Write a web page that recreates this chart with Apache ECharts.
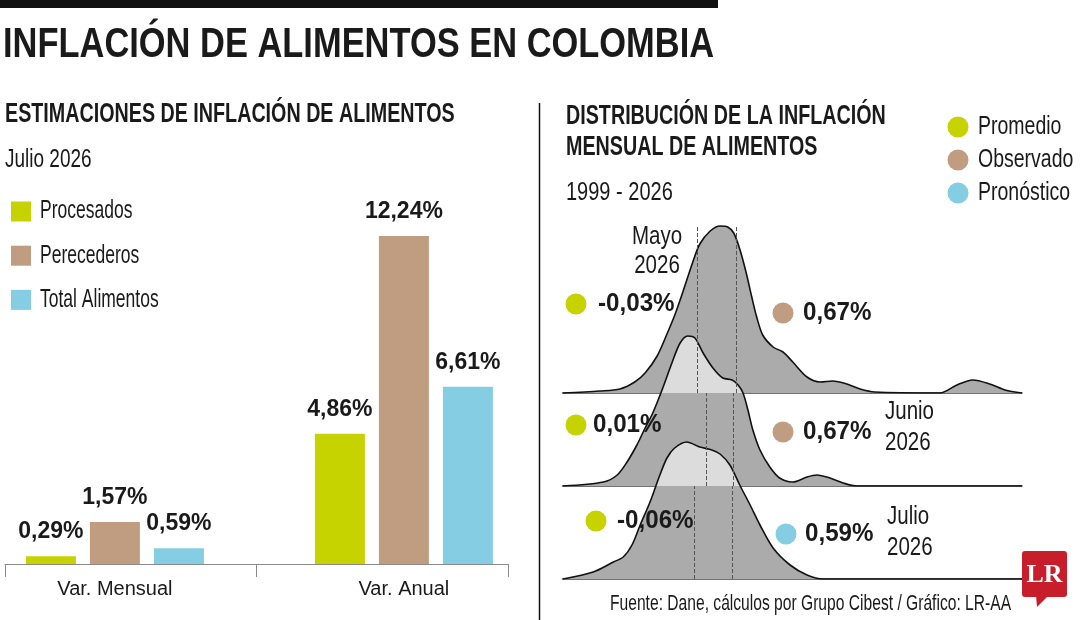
<!DOCTYPE html>
<html lang="es">
<head>
<meta charset="UTF-8">
<title>Inflación de alimentos en Colombia</title>
<script src="https://cdn.jsdelivr.net/npm/echarts@6/dist/echarts.min.js"></script>
<style>
    html, body { margin: 0; padding: 0; background: #fff; }
    #chart { width: 1080px; height: 620px; }
</style>
</head>
<body>
<div id="chart"></div>
<script type="text/javascript">
    // ---- barras: estimaciones julio 2026 ----
    var categorias = ['Var. Mensual', 'Var. Anual'];
    var nombresBarras = ['Procesados', 'Perecederos', 'Total Alimentos'];
    var procesados = [0.29, 4.86];
    var perecederos = [1.57, 12.24];
    var totalAlimentos = [0.59, 6.61];

    // ---- distribución de la inflación mensual 1999-2026 ----
    var meses = [['Mayo', '2026'], ['Junio', '2026'], ['Julio', '2026']];
    var promedio = [-0.03, 0.01, -0.06];
    var observado = [0.67, 0.67, 0.59];   // julio = pronóstico
    // posición (en %) de las líneas punteadas
    var guiaMayo = [-0.03, 0.67];
    var guiaJunio = [0.12, 0.63];
    var guiaJulio = [-0.09, 0.60];

    // densidades: [inflación mensual %, densidad]
    var densMayo = [[-2.49, 0], [-1.82, 0.01], [-1.45, 0.02], [-1.18, 0.055], [-0.99, 0.10], [-0.77, 0.185],
        [-0.59, 0.295], [-0.44, 0.395], [-0.30, 0.505], [-0.13, 0.645], [0.01, 0.745], [0.20, 0.81],
        [0.38, 0.835], [0.52, 0.83], [0.63, 0.80], [0.74, 0.72], [0.85, 0.61], [0.96, 0.48], [1.05, 0.38],
        [1.16, 0.29], [1.35, 0.23], [1.53, 0.205], [1.71, 0.155], [1.97, 0.08], [2.21, 0.055], [2.44, 0.06],
        [2.70, 0.045], [2.94, 0.02], [3.21, 0.005], [4.40, 0], [4.71, 0.04], [5.00, 0.065], [5.31, 0.045],
        [5.59, 0.015], [5.90, 0]];
    var densJunio = [[-2.49, 0], [-1.75, 0.02], [-1.50, 0.055], [-1.32, 0.12], [-1.14, 0.205], [-0.99, 0.29],
        [-0.85, 0.365], [-0.66, 0.495], [-0.50, 0.615], [-0.35, 0.715], [-0.21, 0.75], [-0.08, 0.74],
        [0.07, 0.665], [0.25, 0.59], [0.43, 0.54], [0.60, 0.53], [0.71, 0.505], [0.80, 0.465], [0.89, 0.38],
        [0.98, 0.28], [1.11, 0.18], [1.29, 0.095], [1.47, 0.04], [1.71, 0.02], [1.97, 0.045], [2.15, 0.055],
        [2.39, 0.04], [2.63, 0.015], [2.88, 0], [5.90, 0]];
    var densJulio = [[-2.49, 0], [-1.94, 0.035], [-1.57, 0.085], [-1.39, 0.11], [-1.23, 0.17], [-1.08, 0.27],
        [-0.90, 0.385], [-0.72, 0.52], [-0.59, 0.605], [-0.45, 0.655], [-0.23, 0.685], [0.01, 0.66],
        [0.23, 0.645], [0.38, 0.625], [0.56, 0.57], [0.74, 0.47], [0.93, 0.37], [1.11, 0.27], [1.35, 0.155],
        [1.66, 0.07], [1.97, 0.02], [2.26, 0], [5.90, 0]];

    var VERDE = '#c6d300', CAFE = '#c09d80', AZUL = '#84cde3';
    var OSCURO = '#ababab', CLARO = '#dcdcdc', TINTA = '#1a1a1a';
    var SANS = '"Liberation Sans", Arial, sans-serif';

    function fmt(v) {
        return v.toFixed(2).replace('.', ',') + '%';
    }

    function txt(x, y, s, size, bold, sx, align) {
        return {
            type: 'text', x: x, y: y, scaleX: sx, silent: true, z: 20,
            style: {
                text: s, fill: TINTA, font: (bold ? 'bold ' : '') + size + 'px ' + SANS,
                textAlign: align || 'left', textVerticalAlign: 'middle'
            }
        };
    }

    function dot(cx, cy, color) {
        return {type: 'circle', silent: true, z: 20, shape: {cx: cx, cy: cy, r: 10.5}, style: {fill: color}};
    }

    // escala horizontal de las curvas: -2,5% .. 5,9%
    var xMin = -2.5, xMax = 5.9;
    var ridgeLeft = 562.5, ridgeRight = 58;
    var base = [393, 486, 579];   // línea base de cada mes (px)
    var fila = 0.465;             // alto de una fila en unidades de densidad

    function ridgeGrid(top, bottom) {
        return {left: ridgeLeft, right: ridgeRight, top: top, bottom: 620 - bottom, outerBoundsMode: 'none'};
    }

    var grids = [
        {left: -29.6, right: 531.6, top: 188.8, bottom: 56, outerBoundsMode: 'none'},   // barras
        {left: 5, right: 572, top: 400, bottom: 56, outerBoundsMode: 'none'},           // eje de barras
        ridgeGrid(base[0] - 180, base[0]),   // mayo
        ridgeGrid(base[1] - 180, base[1]),   // junio claro
        ridgeGrid(base[0], base[1]),         // junio oscuro
        ridgeGrid(base[2] - 180, base[2]),   // julio claro
        ridgeGrid(base[1], base[2])          // julio oscuro
    ];

    var xAxes = [
        {
            gridIndex: 0, type: 'category', data: categorias,
            axisLine: {show: false}, axisTick: {show: false},
            axisLabel: {fontFamily: SANS, fontSize: 20, color: TINTA, margin: 15}
        },
        {
            gridIndex: 1, type: 'category', data: ['', ''],
            axisLine: {lineStyle: {color: '#8a8a8a', width: 1}},
            axisTick: {show: true, length: 13, lineStyle: {color: '#8a8a8a'}},
            axisLabel: {show: false}
        }
    ];
    var yAxes = [
        {gridIndex: 0, type: 'value', min: 0, max: 14, show: false},
        {gridIndex: 1, type: 'value', show: false}
    ];
    for (var g = 2; g < grids.length; g++) {
        var conLinea = (g === 2 || g === 3 || g === 5);
        xAxes.push({
            gridIndex: g, type: 'value', min: xMin, max: xMax,
            axisLine: {show: conLinea, onZero: false, lineStyle: {color: '#444', width: 1.5}},
            axisTick: {show: false}, axisLabel: {show: false}, splitLine: {show: false}
        });
        yAxes.push({
            gridIndex: g, type: 'value', min: 0, max: (g === 4 || g === 6) ? fila : 0.9, show: false
        });
    }

    function barra(nombre, valores, color) {
        return {
            name: nombre, type: 'bar', xAxisIndex: 0, yAxisIndex: 0,
            data: valores, barWidth: 50, barGap: '28%',
            itemStyle: {color: color},
            label: {
                show: true, position: 'top', distance: 13,
                fontFamily: SANS, fontWeight: 'bold', fontSize: 23, color: TINTA,
                formatter: function (p) { return fmt(p.value); }
            }
        };
    }

    function relleno(datos, idx, color) {
        return {
            type: 'line', xAxisIndex: idx, yAxisIndex: idx, data: datos,
            smooth: 0.3, symbol: 'none', silent: true, z: 2,
            lineStyle: {width: 0}, areaStyle: {color: color, opacity: 1}
        };
    }

    function trazo(datos, idx, guias, alto) {
        return {
            type: 'line', xAxisIndex: idx, yAxisIndex: idx, data: datos,
            smooth: 0.3, symbol: 'none', silent: true, z: 3,
            lineStyle: {color: '#111', width: 1.6},
            markLine: {
                silent: true, symbol: 'none', label: {show: false},
                lineStyle: {color: '#555', type: 'dashed', width: 1},
                data: guias.map(function (gx) {
                    return [{coord: [gx, 0]}, {coord: [gx, alto]}];
                })
            }
        };
    }

    var colores = [VERDE, CAFE, AZUL];
    var series = [
        barra(nombresBarras[0], procesados, VERDE),
        barra(nombresBarras[1], perecederos, CAFE),
        barra(nombresBarras[2], totalAlimentos, AZUL),
        relleno(densMayo, 2, OSCURO),
        trazo(densMayo, 2, guiaMayo, 0.84),
        relleno(densJunio, 3, CLARO),
        relleno(densJunio, 4, OSCURO),
        trazo(densJunio, 3, guiaJunio, fila),
        relleno(densJulio, 5, CLARO),
        relleno(densJulio, 6, OSCURO),
        trazo(densJulio, 5, guiaJulio, fila)
    ];

    // ---- textos y anotaciones ----
    var graficos = [
        {type: 'rect', silent: true, shape: {x: 0, y: 0, width: 718, height: 8}, style: {fill: '#111'}},
        txt(3, 45, 'INFLACIÓN DE ALIMENTOS EN COLOMBIA', 42, true, 0.82),
        txt(5, 115, 'ESTIMACIONES DE INFLACIÓN DE ALIMENTOS', 27, true, 0.73),
        txt(5, 160, 'Julio 2026', 25, false, 0.76),
        {type: 'line', silent: true, shape: {x1: 539.5, y1: 103, x2: 539.5, y2: 620},
            style: {stroke: '#111', lineWidth: 1.5}},
        txt(566, 117, 'DISTRIBUCIÓN DE LA INFLACIÓN', 27, true, 0.73),
        txt(566, 148, 'MENSUAL DE ALIMENTOS', 27, true, 0.73),
        txt(566, 193, '1999 - 2026', 25, false, 0.8),
        dot(958, 127, VERDE), txt(978, 127, 'Promedio', 25, false, 0.78),
        dot(958, 160, CAFE), txt(978, 160, 'Observado', 25, false, 0.78),
        dot(958, 193, AZUL), txt(978, 193, 'Pronóstico', 25, false, 0.78),
        txt(610, 604, 'Fuente: Dane, cálculos por Grupo Cibest / Gráfico: LR-AA', 22, false, 0.71)
    ];

    // leyenda de las barras
    nombresBarras.forEach(function (n, i) {
        var cy = 211.5 + i * 44.2;
        graficos.push({type: 'rect', silent: true, shape: {x: 11, y: cy - 10, width: 20, height: 20},
            style: {fill: colores[i]}});
        graficos.push(txt(40, cy, n, 25, false, 0.7));
    });

    // posiciones de las etiquetas de cada fila (px)
    var anot = [
        {pd: [576, 304], pt: 598, od: [783, 313], ot: 803, mes: [657, 237, 266, 'center']},
        {pd: [576, 425], pt: 593, od: [783, 432], ot: 803, mes: [885, 412, 443, 'left']},
        {pd: [596, 521], pt: 617, od: [786, 534], ot: 805, mes: [887, 517, 548, 'left']}
    ];
    anot.forEach(function (a, i) {
        graficos.push(dot(a.pd[0], a.pd[1], VERDE));
        graficos.push(txt(a.pt, a.pd[1], fmt(promedio[i]), 26, true, 0.93));
        graficos.push(dot(a.od[0], a.od[1], i === 2 ? AZUL : CAFE));
        graficos.push(txt(a.ot, a.od[1], fmt(observado[i]), 26, true, 0.93));
        graficos.push(txt(a.mes[0], a.mes[1], meses[i][0], 25, false, 0.82, a.mes[3]));
        graficos.push(txt(a.mes[0], a.mes[2], meses[i][1], 25, false, 0.82, a.mes[3]));
    });

    // logo LR
    graficos.push({
        type: 'group', silent: true, children: [
            {type: 'rect', shape: {x: 1022, y: 551, width: 45, height: 46, r: 3}, style: {fill: '#c81e2b'}},
            {type: 'polygon', shape: {points: [[1036, 595], [1049, 595], [1037, 607]]}, style: {fill: '#c81e2b'}},
            {type: 'text', x: 1044.5, y: 575, style: {
                text: 'LR', fill: '#fff', font: 'bold 26px "Liberation Serif", "DejaVu Serif", serif',
                textAlign: 'center', textVerticalAlign: 'middle'}}
        ]
    });

    var chart = echarts.init(document.getElementById('chart'));
    chart.setOption({
        animation: false,
        backgroundColor: '#fff',
        grid: grids,
        xAxis: xAxes,
        yAxis: yAxes,
        series: series,
        graphic: graficos
    });
</script>
</body>
</html>
